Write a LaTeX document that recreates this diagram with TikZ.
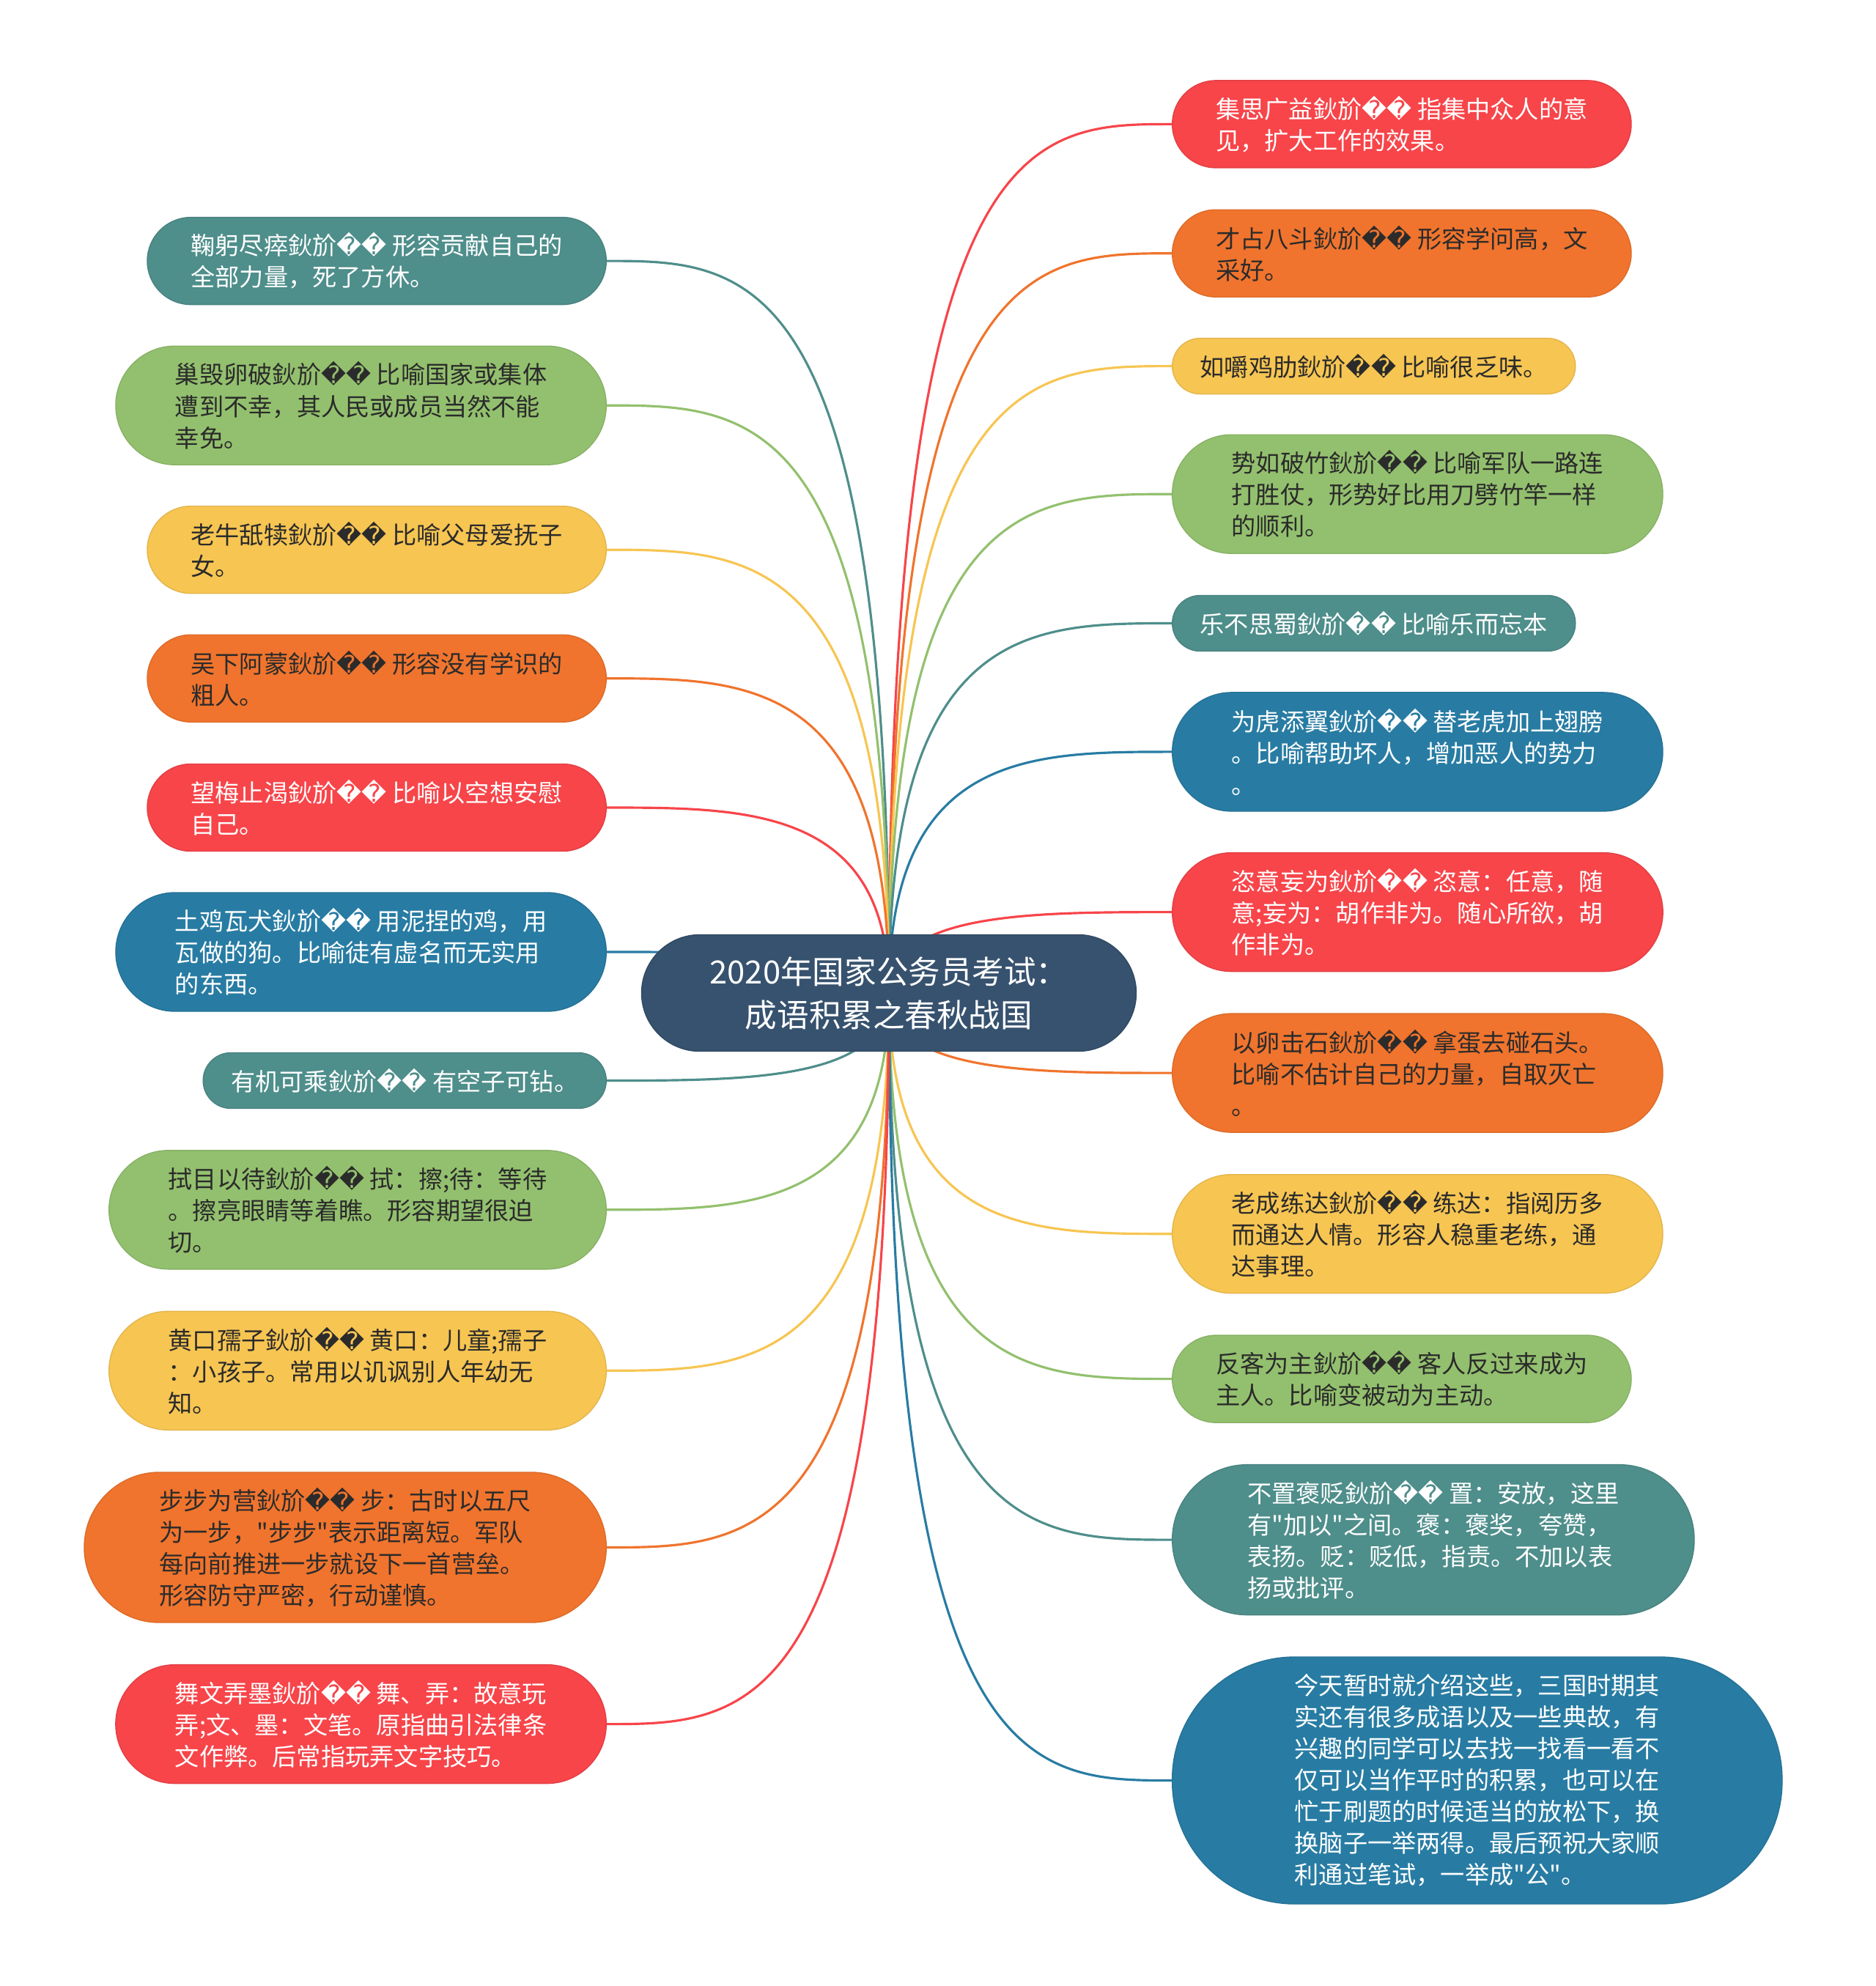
\documentclass[tikz,border=0pt]{standalone}
\usepackage{fontspec}
\newfontfamily\cjkfont{Noto Sans CJK SC}
\newfontfamily\repfont{DejaVu Sans}
\usepackage{tikz}
\usetikzlibrary{backgrounds, calc}

\definecolor{cred}{HTML}{F7454A}
\definecolor{corange}{HTML}{F0742D}
\definecolor{cyellow}{HTML}{F7C552}
\definecolor{cgreen}{HTML}{93C06E}
\definecolor{cteal}{HTML}{4E8E8B}
\definecolor{cblue}{HTML}{287CA3}
\definecolor{croot}{HTML}{37526E}
\definecolor{cdark}{HTML}{2B2B2B}

\newcommand{\gb}{鈥斺{\repfont ^^^^fffd^^^^fffd}}
\newcommand{\boxfont}{\cjkfont\fontsize{9.45pt}{12.24pt}\selectfont}
\newcommand{\rootfont}{\cjkfont\fontsize{12.4pt}{16.8pt}\selectfont}

\begin{document}
\begin{tikzpicture}[
			box/.style={rectangle, inner ysep=0.12cm, align=left, font=\boxfont, line width=0.4pt},
			lines/.style={minimum height=0.33cm+0.43cm*#1, rounded corners=0.165cm+0.215cm*#1, inner xsep=0.165cm+0.215cm*#1},
			redbox/.style={box, fill=cred, draw=cred!92!black, text=white},
			orangebox/.style={box, fill=corange, draw=corange!92!black, text=cdark},
			yellowbox/.style={box, fill=cyellow, draw=cyellow!92!black, text=cdark},
			greenbox/.style={box, fill=cgreen, draw=cgreen!92!black, text=cdark},
			tealbox/.style={box, fill=cteal, draw=cteal!92!black, text=white},
			bluebox/.style={box, fill=cblue, draw=cblue!92!black, text=white},
			rootbox/.style={rectangle, minimum height=1.59cm, rounded corners=0.795cm, inner xsep=0.93cm, align=center, font=\rootfont, fill=croot, draw=croot!90!black, text=white},
			link/.style={line width=0.9pt}
		]
		\useasboundingbox (0,0) rectangle (25.6,-27.1);

		% Root
		\node[rootbox] (root) at (12.13,-13.55) {2020年国家公务员考试：\\成语积累之春秋战国};

		% Right branch
		\node[redbox, lines=2, anchor=west] (jisi) at (15.99,-1.694) {集思广益\gb{} 指集中众人的意\\见，扩大工作的效果。};
		\node[orangebox, lines=2, anchor=west] (caigao) at (15.99,-3.457) {才占八斗\gb{} 形容学问高，文\\采好。};
		\node[yellowbox, lines=1, anchor=west] (jile) at (15.99,-4.996) {如嚼鸡肋\gb{} 比喻很乏味。};
		\node[greenbox, lines=3, anchor=west] (pozhu) at (15.99,-6.742) {势如破竹\gb{} 比喻军队一路连\\打胜仗，形势好比用刀劈竹竿一样\\的顺利。};
		\node[tealbox, lines=1, anchor=west] (lebu) at (15.99,-8.505) {乐不思蜀\gb{} 比喻乐而忘本};
		\node[bluebox, lines=3, anchor=west] (tianyi) at (15.99,-10.259) {为虎添翼\gb{} 替老虎加上翅膀\\。比喻帮助坏人，增加恶人的势力\\。};
		\node[redbox, lines=3, anchor=west] (ziyi) at (15.99,-12.446) {恣意妄为\gb{} 恣意：任意，随\\意;妄为：胡作非为。随心所欲，胡\\作非为。};
		\node[orangebox, lines=3, anchor=west] (jishi) at (15.99,-14.641) {以卵击石\gb{} 拿蛋去碰石头。\\比喻不估计自己的力量，自取灭亡\\。};
		\node[yellowbox, lines=3, anchor=west] (lianda) at (15.99,-16.837) {老成练达\gb{} 练达：指阅历多\\而通达人情。形容人稳重老练，通\\达事理。};
		\node[greenbox, lines=2, anchor=west] (fanke) at (15.99,-18.816) {反客为主\gb{} 客人反过来成为\\主人。比喻变被动为主动。};
		\node[tealbox, lines=4, anchor=west] (baobian) at (15.99,-21.011) {不置褒贬\gb{} 置：安放，这里\\有"加以"之间。褒：褒奖，夸赞，\\表扬。贬：贬低，指责。不加以表\\扬或批评。};
		\node[bluebox, lines=7, minimum height=3.37cm, anchor=west] (jintian) at (15.99,-24.295) {今天暂时就介绍这些，三国时期其\\实还有很多成语以及一些典故，有\\兴趣的同学可以去找一找看一看不\\仅可以当作平时的积累，也可以在\\忙于刷题的时候适当的放松下，换\\换脑子一举两得。最后预祝大家顺\\利通过笔试，一举成"公"。};

		% Left branch
		\node[tealbox, lines=2, anchor=east] (jugong) at (8.28,-3.561) {鞠躬尽瘁\gb{} 形容贡献自己的\\全部力量，死了方休。};
		\node[greenbox, lines=3, anchor=east] (chaohui) at (8.28,-5.532) {巢毁卵破\gb{} 比喻国家或集体\\遭到不幸，其人民或成员当然不能\\幸免。};
		\node[yellowbox, lines=2, anchor=east] (laoniu) at (8.28,-7.502) {老牛舐犊\gb{} 比喻父母爱抚子\\女。};
		\node[orangebox, lines=2, anchor=east] (wuxia) at (8.28,-9.257) {吴下阿蒙\gb{} 形容没有学识的\\粗人。};
		\node[redbox, lines=2, anchor=east] (wangmei) at (8.28,-11.020) {望梅止渴\gb{} 比喻以空想安慰\\自己。};
		\node[bluebox, lines=3, anchor=east] (tuji) at (8.28,-12.990) {土鸡瓦犬\gb{} 用泥捏的鸡，用\\瓦做的狗。比喻徒有虚名而无实用\\的东西。};
		\node[tealbox, lines=1, anchor=east] (youji) at (8.28,-14.745) {有机可乘\gb{} 有空子可钻。};
		\node[greenbox, lines=3, anchor=east] (shimu) at (8.28,-16.508) {拭目以待\gb{} 拭：擦;待：等待\\。擦亮眼睛等着瞧。形容期望很迫\\切。};
		\node[yellowbox, lines=3, anchor=east] (huangkou) at (8.28,-18.703) {黄口孺子\gb{} 黄口：儿童;孺子\\：小孩子。常用以讥讽别人年幼无\\知。};
		\node[orangebox, lines=4, anchor=east] (bubu) at (8.28,-21.115) {步步为营\gb{} 步：古时以五尺\\为一步，"步步"表示距离短。军队\\每向前推进一步就设下一首营垒。\\形容防守严密，行动谨慎。};
		\node[redbox, lines=3, anchor=east] (wuwen) at (8.28,-23.526) {舞文弄墨\gb{} 舞、弄：故意玩\\弄;文、墨：文笔。原指曲引法律条\\文作弊。后常指玩弄文字技巧。};

		% Connectors (behind the boxes)
		\begin{scope}[on background layer]
			\fill[white] (0,0) rectangle (25.6,-27.1);
			\foreach \t/\c in {jisi/cred, caigao/corange, jile/cyellow, pozhu/cgreen, lebu/cteal, tianyi/cblue, ziyi/cred, jishi/corange, lianda/cyellow, fanke/cgreen, baobian/cteal, jintian/cblue}
				\draw[link, draw=\c] (root.center) .. controls (root.center |- \t.west) and ($(root.center |- \t.west)!0.5!(\t.west)$) .. (\t.west);
			\foreach \t/\c in {jugong/cteal, chaohui/cgreen, laoniu/cyellow, wuxia/corange, wangmei/cred, tuji/cblue, youji/cteal, shimu/cgreen, huangkou/cyellow, bubu/corange, wuwen/cred}
				\draw[link, draw=\c] (root.center) .. controls (root.center |- \t.east) and ($(root.center |- \t.east)!0.5!(\t.east)$) .. (\t.east);
		\end{scope}

		\end{tikzpicture}
\end{document}
